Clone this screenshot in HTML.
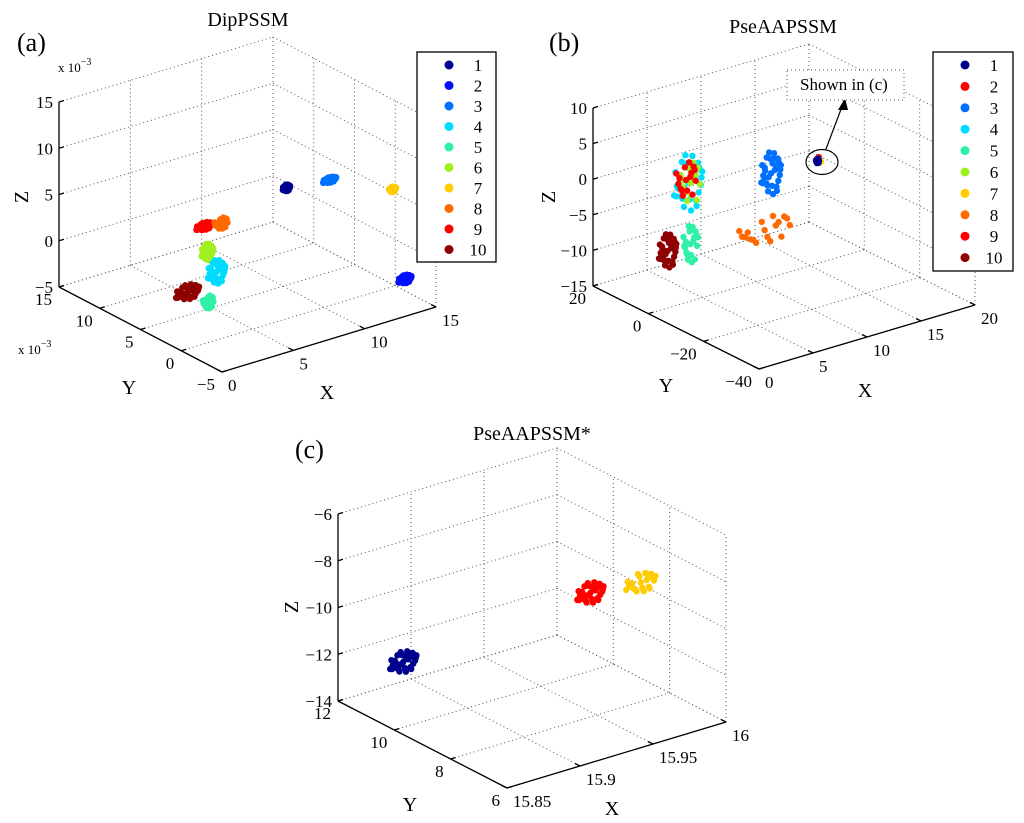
<!DOCTYPE html>
<html><head><meta charset="utf-8">
<style>
html,body{margin:0;padding:0;background:#fff;}
svg{display:block;font-family:"Liberation Serif","Times New Roman",serif;}
</style></head>
<body>
<svg id="fig" width="1024" height="823" viewBox="0 0 1024 823" xmlns="http://www.w3.org/2000/svg">
<g id="layer"></g>
</svg>
<script>
// ---------- DATA ----------
const colorsA = ['#00008f','#0010ff','#0070ff','#00dcff','#30f0a8','#a0f020','#ffcc00','#ff6a00','#ff0000','#8f0000'];
const colorsB = ['#00008f','#ff0000','#0070ff','#00dcff','#30f0a8','#a0f020','#ffcc00','#ff6a00','#ff0000','#8f0000'];
const legendLabels = ['1','2','3','4','5','6','7','8','9','10'];

// Panel (a) DipPSSM, values in units of 1e-3
const aClasses = [1,3,7,2,9,8,6,4,10,5];
const aX = [14.8,14.4,14.8,13.4,7.9,8.5,6.4,5.9,3.3,3.6];
const aY = [13,7,0,-4,11,10,8,6,5,3];
const aZ = [-0.3,3.5,5.5,-1.7,-0.3,0.2,-1,-2,-2.5,-2.8];
const aSx = [0.25,0.45,0.25,0.45,0.55,0.5,0.4,0.6,0.8,0.4];
const aSz = [0.35,0.3,0.3,0.45,0.4,0.6,0.9,1.3,0.8,0.7];
const aN = [30,30,20,30,30,18,30,30,30,18];

// Panel (b) PseAAPSSM
const bClasses = [4,6,2,10,5,3,8,2,7,1];
const bX = [4.2,4.4,4.0,2.3,4.4,8.8,8.2,13.2,13.3,13.1];
const bY = [2,2,2,2,2,-10,-10,-10,-10,-10];
const bZ = [1.1,1.0,1.6,-7.6,-7.6,2.7,-5,2.7,2.3,2.5];
const bSx = [1.3,1.0,1.0,0.8,0.7,0.9,2.6,0.12,0.12,0.15];
const bSz = [4.0,3.0,2.6,2.4,2.6,3.0,1.8,0.3,0.3,0.35];
const bN = [30,14,16,30,20,30,18,6,6,14];

// Panel (c) PseAAPSSM*
const cClasses = [1,2,7];
const cX = [15.86,15.965,15.988];
const cY = [10.2,9,8.4];
const cZ = [-11.4,-9.68,-9.3];
const cSx = [0.009,0.009,0.01];
const cSz = [0.45,0.45,0.4];
const cN = [30,30,22];

// unit jitter pattern (fixed, dimensionless)
const offU = [0,0.5,-0.5,0.9,-0.9,0.3,-0.3,0.7,-0.7,0.1,-0.1,0.6,-0.6,0.4,-0.4,0.8,-0.8,0.2,-0.2,1,-1,0.55,-0.45,0.15,-0.25,0.75,-0.65,0.35,-0.85,0.95];
const offV = [0,0.3,-0.4,-0.2,0.5,0.9,-0.8,0.6,-0.1,-0.6,0.7,-0.9,0.2,0.1,-0.5,0.4,0.0,-1,1,0.25,-0.3,-0.7,0.8,0.45,-0.15,-0.45,0.35,0.65,-0.35,0.05];

// ---------- DRAWING ----------
const NS='http://www.w3.org/2000/svg';
const layer=document.getElementById('layer');
function el(tag,attrs,parent){const e=document.createElementNS(NS,tag);for(const k in attrs)e.setAttribute(k,attrs[k]);(parent||layer).appendChild(e);return e;}

function makeAxes(cfg){
  const g=el('g',{});
  
  
  const P=(x,y,z)=>{
    const u=(x-cfg.xr[0])/(cfg.xr[1]-cfg.xr[0]);
    const v=(cfg.yr[1]-y)/(cfg.yr[1]-cfg.yr[0]);
    const w=(z-cfg.zr[0])/(cfg.zr[1]-cfg.zr[0]);
    return [cfg.p0[0]+u*cfg.ex[0]+v*cfg.ey[0]+w*cfg.ez[0], cfg.p0[1]+u*cfg.ex[1]+v*cfg.ey[1]+w*cfg.ez[1]];
  };
  const grid=el('g',{stroke:'#555','stroke-width':'1','stroke-dasharray':'1,3',fill:'none'},g);
  
  
  const [x0,x1]=cfg.xr,[y0,y1]=cfg.yr,[z0,z1]=cfg.zr;
  const line=(a,b,par)=>el('line',{x1:a[0],y1:a[1],x2:b[0],y2:b[1]},par);
  cfg.xt.forEach(x=>{line(P(x,y1,z0),P(x,y1,z1),grid);line(P(x,y1,z0),P(x,y0,z0),grid);});
  cfg.yt.forEach(y=>{line(P(x1,y,z0),P(x1,y,z1),grid);line(P(x0,y,z0),P(x1,y,z0),grid);});
  cfg.zt.forEach(z=>{line(P(x0,y1,z),P(x1,y1,z),grid);line(P(x1,y1,z),P(x1,y0,z),grid);});
  const ax=el('g',{stroke:'#000','stroke-width':'1.3'},g);
  
  
  line(P(x0,y1,z0),P(x0,y1,z1),ax);
  line(P(x0,y1,z0),P(x0,y0,z0),ax);
  line(P(x0,y0,z0),P(x1,y0,z0),ax);
  const lab=el('g',{'font-size':'17',fill:'#000'},g);
  
  
  cfg.zt.forEach((z,i)=>{const p=P(x0,y1,z);line(p,[p[0]+5,p[1]-1.5],ax);
    const t=el('text',{x:p[0]-6,y:p[1]+6,'text-anchor':'end'},lab);t.textContent=cfg.ztl[i];});
  cfg.yt.forEach((y,i)=>{const p=P(x0,y,z0);line(p,[p[0]+5,p[1]-1.5],ax);
    const t=el('text',{x:p[0]-7,y:p[1]+18,'text-anchor':'end'},lab);t.textContent=cfg.ytl[i];});
  cfg.xt.forEach((x,i)=>{const p=P(x,y0,z0);line(p,[p[0]-5,p[1]-2.5],ax);
    const t=el('text',{x:p[0]+6,y:p[1]+19,'text-anchor':'start'},lab);t.textContent=cfg.xtl[i];});
  const tt=el('g',{'font-size':'20',fill:'#000'},g);
  let t=el('text',{x:cfg.titlePos[0],y:cfg.titlePos[1],'text-anchor':'middle'},tt);t.textContent=cfg.title;
  
  t=el('text',{x:cfg.panelPos[0],y:cfg.panelPos[1],'font-size':'26'},tt);t.textContent=cfg.panel;
  
  t=el('text',{x:cfg.xl[0],y:cfg.xl[1],'text-anchor':'middle'},tt);t.textContent='X';
  
  t=el('text',{x:cfg.yl[0],y:cfg.yl[1],'text-anchor':'middle'},tt);t.textContent='Y';
  
  t=el('text',{x:cfg.zl[0],y:cfg.zl[1],'text-anchor':'middle',transform:`rotate(-90 ${cfg.zl[0]} ${cfg.zl[1]})`},tt);t.textContent='Z';
  
  return {g,P};
}

function scatter(ax,classes,X,Y,Z,SX,SZ,N,colors,r){
  const sg=el('g',{},ax.g);
  
  
  classes.forEach((c,i)=>{
    const cg=el('g',{fill:colors[c-1]},sg);
    
    
    for(let k=0;k<N[i];k++){
      const j=k%offU.length;
      const p=ax.P(X[i]+offU[j]*SX[i],Y[i],Z[i]+offV[j]*SZ[i]);
      const d=el('circle',{cx:p[0].toFixed(1),cy:p[1].toFixed(1),r:r},cg);
      
      
    }
  });
}

function legend(x,y,w,h,colors,step){
  const g=el('g',{});
  
  
  el('rect',{x:x,y:y,width:w,height:h,fill:'#fff',stroke:'#000','stroke-width':'1.3'},g);
  legendLabels.forEach((lb,i)=>{
    const e=el('g',{},g);
    
    
    const cy=y+13+i*step;
    el('circle',{cx:x+32,cy:cy,r:4.5,fill:colors[i]},e);
    const t=el('text',{x:x+61,y:cy+6,'font-size':'17','text-anchor':'middle'},e);t.textContent=lb;
  });
}

// Panel (a)
const A=makeAxes({name:'panel-a-dippssm',p0:[59,287],ex:[214,-65],ey:[163,85],ez:[0,-185],
  xr:[0,15],yr:[-5,15],zr:[-5,15],xt:[0,5,10,15],xtl:['0','5','10','15'],yt:[15,10,5,0,-5],ytl:['15','10','5','0','\u22125'],
  zt:[-5,0,5,10,15],ztl:['\u22125','0','5','10','15'],title:'DipPSSM',titlePos:[248,26],panel:'(a)',panelPos:[17,51],
  xl:[327,399],yl:[129,394],zl:[28,197]});
scatter(A,aClasses,aX,aY,aZ,aSx,aSz,aN,colorsA,3.3);
let t=el('text',{x:58,y:72,'font-size':'13'});t.innerHTML='x 10<tspan dy="-7" font-size="10">\u22123</tspan>';

t=el('text',{x:18,y:354,'font-size':'13'});t.innerHTML='x 10<tspan dy="-7" font-size="10">\u22123</tspan>';

legend(417,52,79,210,colorsA,20.5);

// Panel (b)
const B=makeAxes({name:'panel-b-pseaapssm',p0:[593,286],ex:[216,-64],ey:[166,83],ez:[0,-178],
  xr:[0,20],yr:[-40,20],zr:[-15,10],xt:[0,5,10,15,20],xtl:['0','5','10','15','20'],yt:[20,0,-20,-40],ytl:['20','0','\u221220','\u221240'],
  zt:[-15,-10,-5,0,5,10],ztl:['\u221215','\u221210','\u22125','0','5','10'],title:'PseAAPSSM',titlePos:[783,33],panel:'(b)',panelPos:[549,51],
  xl:[865,397],yl:[666,392],zl:[555,197]});
scatter(B,bClasses,bX,bY,bZ,bSx,bSz,bN,colorsB,3.2);
const an=el('g',{});


el('ellipse',{cx:822,cy:162,rx:16,ry:12.5,fill:'none',stroke:'#000','stroke-width':'1.2'},an);
el('line',{x1:826,y1:149,x2:843,y2:104,stroke:'#000','stroke-width':'1.2'},an);
el('polygon',{points:'845,98 838,110 848,110',fill:'#000'},an);
el('rect',{x:787,y:70,width:117,height:30,fill:'#fff',stroke:'#555','stroke-dasharray':'1,3'},an);
t=el('text',{x:800,y:90,'font-size':'17'},an);t.textContent='Shown in (c)';
legend(933,52,80,219,colorsB,21.4);

// Panel (c)
const C=makeAxes({name:'panel-c-pseaapssm-star',p0:[338,701],ex:[219,-66],ey:[169,87],ez:[0,-187],
  xr:[15.85,16],yr:[6,12],zr:[-14,-6],xt:[15.85,15.9,15.95,16],xtl:['15.85','15.9','15.95','16'],yt:[12,10,8,6],ytl:['12','10','8','6'],
  zt:[-14,-12,-10,-8,-6],ztl:['\u221214','\u221212','\u221210','\u22128','\u22126'],title:'PseAAPSSM*',titlePos:[532,440],panel:'(c)',panelPos:[295,458],
  xl:[612,815],yl:[410,811],zl:[298,607]});
scatter(C,cClasses,cX,cY,cZ,cSx,cSz,cN,colorsB,3.2);
</script>
</body></html>
